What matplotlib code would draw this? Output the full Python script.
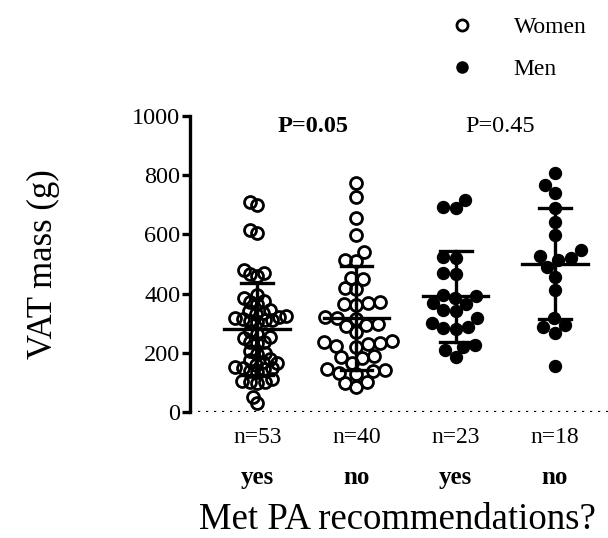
import numpy as np
import matplotlib.pyplot as plt
from matplotlib.lines import Line2D

plt.rcParams['font.family'] = ['Liberation Serif', 'DejaVu Serif']

# data (VAT mass, g)
groups = ['yes', 'no', 'yes', 'no']
counts = ['n=53', 'n=40', 'n=23', 'n=18']
women_yes = [710, 700, 615, 605, 480, 470, 465, 460, 395, 385, 375, 370, 365,
             345, 340, 335, 330, 325, 320, 318, 315, 312, 310, 308, 305,
             275, 265, 255, 250, 238, 235, 232, 205, 200, 195,
             180, 175, 170, 165, 160, 152, 150, 148, 145, 140, 135,
             110, 105, 102, 100, 98, 50, 30]
women_no = [773, 725, 655, 598, 540, 515, 510, 453, 448, 420, 415,
            370, 368, 365, 362, 320, 318, 315, 298, 294, 290, 270,
            240, 236, 232, 230, 222, 218, 190, 186, 182, 165,
            145, 142, 138, 132, 128, 103, 98, 84]
men_yes = [689, 693, 716, 524, 520, 470, 466, 385, 395, 392, 368, 365,
           345, 342, 318, 300, 287, 285, 282, 226, 220, 209, 186]
men_no = [807, 767, 740, 689, 642, 598, 547, 527, 520, 513, 490, 456,
          412, 318, 287, 294, 267, 155]
p_labels = ['P=0.05', 'P=0.45']

series = [women_yes, women_no, men_yes, men_no]
filled = [False, False, True, True]

W, H = 608, 538
ax_rect = [190 / W, 126 / H, (W - 190) / W, 296 / H]
xlim = (0.323, 4.535)
ylim = (0, 1000)
px_x = ax_rect[2] * W / (xlim[1] - xlim[0])
px_y = ax_rect[3] * H / (ylim[1] - ylim[0])


def swarm(vals, diam):
    # simple beeswarm offsets (in x data units)
    ys = np.asarray(vals, float) * px_y
    order = np.argsort(ys)
    placed = []
    offs = np.zeros(len(ys))
    for i in order:
        y = ys[i]
        near = [(ox, oy) for ox, oy in placed if abs(oy - y) < diam]
        cands = [0.0]
        for ox, oy in near:
            dx = np.sqrt(diam ** 2 - (oy - y) ** 2)
            cands += [ox + dx, ox - dx]
        cands.sort(key=lambda c: (abs(c), c))
        for c in cands:
            if all((c - ox) ** 2 + (y - oy) ** 2 >= diam ** 2 - 1e-6 for ox, oy in near):
                break
        placed.append((c, y))
        offs[i] = c
    return offs / px_x


fig = plt.figure(figsize=(W / 100, H / 100), dpi=100)
ax = fig.add_axes(ax_rect)

ms = 8.6
spacing = [7.5, 12, 12.5, 13]
for k, vals in enumerate(series):
    x0 = k + 1
    xs = x0 + swarm(vals, spacing[k])
    if filled[k]:
        ax.plot(xs, vals, 'o', ms=ms, mfc='black', mec='black', zorder=3)
    else:
        ax.plot(xs, vals, 'o', ms=ms, mfc='none', mec='black', mew=2.0, zorder=3)
    m = np.mean(vals)
    sd = np.std(vals, ddof=1)
    ax.plot([x0 - 0.33, x0 + 0.33], [m, m], color='black', lw=2.4, zorder=4)
    ax.plot([x0, x0], [m - sd, m + sd], color='black', lw=2.4, zorder=4)
    for yv in (m - sd, m + sd):
        ax.plot([x0 - 0.16, x0 + 0.16], [yv, yv], color='black', lw=2.4, zorder=4)

ax.axhline(0, color='black', ls=(0, (1, 2.6)), lw=1.6, zorder=1)

ax.set_xlim(*xlim)
ax.set_ylim(*ylim)
ax.set_yticks(range(0, 1001, 200))
ax.set_xticks([])
ax.tick_params(axis='y', labelsize=17.5, width=2.4, length=6, pad=1)
for s in ['top', 'right', 'bottom']:
    ax.spines[s].set_visible(False)
ax.spines['left'].set_linewidth(2.4)
ax.set_ylabel('VAT mass (g)', fontsize=25, labelpad=52)

for k in range(4):
    ax.text(k + 1, -85, counts[k], ha='center', va='center', fontsize=17)
    ax.text(k + 1, -220, groups[k], ha='center', va='center', fontsize=18,
            fontweight='bold')
ax.text(1.56, 965, p_labels[0], ha='center', va='center', fontsize=17.5,
        fontweight='bold')
ax.text(3.45, 965, p_labels[1], ha='center', va='center', fontsize=17.5)
fig.text(397 / W, 1 - 520 / H, 'Met PA recommendations?', ha='center',
         va='center', fontsize=26.5)

handles = [Line2D([], [], ls='none', marker='o', ms=8, mfc='none', mec='black', mew=2),
           Line2D([], [], ls='none', marker='o', ms=8, mfc='black', mec='black')]
fig.legend(handles, ['Women', 'Men'], loc='upper left',
           bbox_to_anchor=(417 / W, 1 + 5 / H), frameon=False, fontsize=17,
           labelspacing=0.88, handletextpad=1.2)

fig.savefig('out.png', dpi=100)
